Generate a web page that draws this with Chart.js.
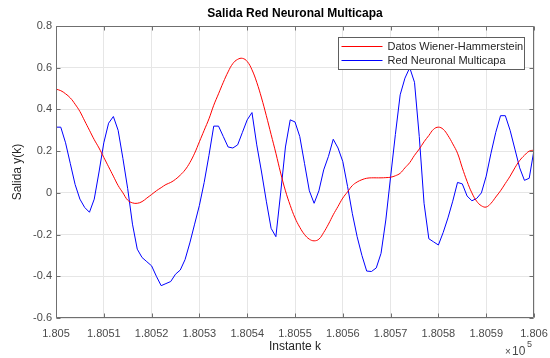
<!DOCTYPE html>
<html>
<head>
<meta charset="utf-8">
<script src="https://cdn.jsdelivr.net/npm/chart.js@4.4.1/dist/chart.umd.min.js"></script>
<style>
  html, body { margin: 0; padding: 0; background: #fff; }
  #wrap { width: 550px; height: 358px; }
</style>
</head>
<body>
<div id="wrap"><canvas id="chart"></canvas></div>
<script>
const instants = [
  180500, 180501, 180502, 180503, 180504, 180505, 180506, 180507, 180508, 180509,
  180510, 180511, 180512, 180513, 180514, 180515, 180516, 180517, 180518, 180519,
  180520, 180521, 180522, 180523, 180524, 180525, 180526, 180527, 180528, 180529,
  180530, 180531, 180532, 180533, 180534, 180535, 180536, 180537, 180538, 180539,
  180540, 180541, 180542, 180543, 180544, 180545, 180546, 180547, 180548, 180549,
  180550, 180551, 180552, 180553, 180554, 180555, 180556, 180557, 180558, 180559,
  180560, 180561, 180562, 180563, 180564, 180565, 180566, 180567, 180568, 180569,
  180570, 180571, 180572, 180573, 180574, 180575, 180576, 180577, 180578, 180579,
  180580, 180581, 180582, 180583, 180584, 180585, 180586, 180587, 180588, 180589,
  180590, 180591, 180592, 180593, 180594, 180595, 180596, 180597, 180598, 180599,
  180600
];

const datosWH = [
  0.497, 0.49, 0.475, 0.455, 0.425, 0.39, 0.345, 0.30, 0.255, 0.215,
  0.17, 0.125, 0.08, 0.035, 0.0, -0.035, -0.048, -0.05, -0.042, -0.025,
  -0.008, 0.01, 0.025, 0.04, 0.05, 0.065, 0.085, 0.11, 0.145, 0.19,
  0.245, 0.30, 0.355, 0.42, 0.475, 0.53, 0.58, 0.62, 0.64, 0.645,
  0.63, 0.59, 0.53, 0.455, 0.37, 0.28, 0.19, 0.095, 0.01, -0.06,
  -0.12, -0.165, -0.2, -0.222, -0.23, -0.222, -0.19, -0.15, -0.105, -0.065,
  -0.025, 0.005, 0.035, 0.052, 0.063, 0.07, 0.072, 0.072, 0.072, 0.073,
  0.075, 0.082, 0.094, 0.12, 0.145, 0.18, 0.21, 0.245, 0.275, 0.305,
  0.315, 0.305, 0.275, 0.235, 0.19, 0.12, 0.055, 0.0, -0.04, -0.062,
  -0.068, -0.05, -0.02, 0.01, 0.045, 0.08, 0.12, 0.155, 0.18, 0.2,
  0.205
];

const redNeuronal = [
  0.315, 0.315, 0.24, 0.14, 0.04, -0.03, -0.07, -0.093, -0.03, 0.10,
  0.24, 0.334, 0.366, 0.30, 0.165, 0.02, -0.15, -0.27, -0.31, -0.33,
  -0.35, -0.40, -0.445, -0.435, -0.425, -0.39, -0.37, -0.32, -0.24, -0.15,
  -0.06, 0.05, 0.18, 0.32, 0.32, 0.27, 0.22, 0.215, 0.23, 0.29,
  0.35, 0.385, 0.23, 0.10, -0.04, -0.17, -0.21, 0.0, 0.22, 0.35,
  0.34, 0.27, 0.14, 0.01, -0.05, 0.01, 0.11, 0.175, 0.257, 0.215,
  0.15, 0.03, -0.10, -0.21, -0.30, -0.375, -0.377, -0.36, -0.29, -0.13,
  0.077, 0.28, 0.47, 0.55, 0.60, 0.53, 0.27, -0.05, -0.22, -0.235,
  -0.25, -0.19, -0.12, -0.04, 0.05, 0.043, -0.015, -0.038, -0.027, 0.0,
  0.08, 0.19, 0.29, 0.37, 0.37, 0.30, 0.21, 0.12, 0.06, 0.07,
  0.206
];

const seriesNames = ["Datos Wiener-Hammerstein", "Red Neuronal Multicapa"];

const fontFamily = "'Liberation Sans', Arial, Helvetica, sans-serif";
const axisColor = "#6f6f6f";
const labelColor = "#4a4a4a";
const textColor = "#262626";
const gridColor = "#e6e6e6";
const redColor = "#ff0000";
const blueColor = "#0000ff";

function toPoints(values) {
  return values.map((v, i) => ({ x: instants[i], y: v }));
}

// MATLAB-like box: full frame, inward ticks on all sides, boxed legend, x10^5 exponent
const matlabFrame = {
  id: "matlabFrame",
  afterDraw(chart) {
    const { ctx, chartArea: a, scales } = chart;
    const left = Math.round(a.left) + 0.5;
    const right = Math.round(a.right) - 0.5;
    const top = Math.round(a.top) + 0.5;
    const bottom = Math.round(a.bottom) - 0.5;
    const tl = 4;
    ctx.save();
    ctx.strokeStyle = axisColor;
    ctx.lineWidth = 1;
    ctx.beginPath();
    ctx.rect(left, top, right - left, bottom - top);
    scales.x.ticks.forEach((t) => {
      const px = Math.round(scales.x.getPixelForValue(t.value)) + 0.5;
      ctx.moveTo(px, bottom); ctx.lineTo(px, bottom - tl);
      ctx.moveTo(px, top); ctx.lineTo(px, top + tl);
    });
    scales.y.ticks.forEach((t) => {
      const py = Math.round(scales.y.getPixelForValue(t.value)) + 0.5;
      ctx.moveTo(left, py); ctx.lineTo(left + tl, py);
      ctx.moveTo(right, py); ctx.lineTo(right - tl, py);
    });
    ctx.stroke();

    // legend
    const lx = 338.5, ly = 37.5, lw = 186, lh = 32;
    ctx.fillStyle = "#fff";
    ctx.fillRect(lx, ly, lw, lh);
    ctx.strokeStyle = "#5e5e5e";
    ctx.strokeRect(lx, ly, lw, lh);
    ctx.font = "11px " + fontFamily;
    ctx.textBaseline = "middle";
    ctx.textAlign = "left";
    chart.data.datasets.forEach((ds, i) => {
      const yy = ly + 9 + i * 14;
      ctx.strokeStyle = ds.borderColor;
      ctx.beginPath();
      ctx.moveTo(lx + 3, yy);
      ctx.lineTo(lx + 44, yy);
      ctx.stroke();
      ctx.fillStyle = textColor;
      ctx.fillText(ds.label, lx + 49, yy);
    });

    // exponent label
    ctx.fillStyle = labelColor;
    ctx.font = "10px " + fontFamily;
    ctx.fillText("\u00d7", 505, 352);
    ctx.font = "12px " + fontFamily;
    ctx.fillText("10", 512, 352);
    ctx.font = "9px " + fontFamily;
    ctx.fillText("5", 527, 345);
    ctx.restore();
  }
};

new Chart(document.getElementById("chart"), {
  type: "line",
  plugins: [matlabFrame],
  data: {
    datasets: [
      {
        label: seriesNames[0],
        data: toPoints(datosWH),
        borderColor: redColor,
        borderWidth: 1,
        pointRadius: 0,
        tension: 0.4,
        fill: false
      },
      {
        label: seriesNames[1],
        data: toPoints(redNeuronal),
        borderColor: blueColor,
        borderWidth: 1,
        pointRadius: 0,
        tension: 0,
        fill: false
      }
    ]
  },
  options: {
    responsive: true,
    maintainAspectRatio: false,
    animation: false,
    events: [],
    layout: { padding: { left: 0, right: 16, top: 0, bottom: 0 } },
    plugins: {
      legend: { display: false },
      tooltip: { enabled: false },
      title: {
        display: true,
        fullSize: false,
        text: "Salida Red Neuronal Multicapa",
        color: "#000",
        font: { family: fontFamily, size: 12, weight: "bold", lineHeight: 1.2 },
        padding: { top: 6, bottom: 5.6 }
      }
    },
    scales: {
      x: {
        type: "linear",
        min: 180500,
        max: 180600,
        afterFit(scale) {
          scale.height = 40;
          scale.paddingLeft = 0;
          scale.paddingRight = 0;
        },
        grid: { color: gridColor, drawTicks: false },
        border: { display: false },
        ticks: {
          stepSize: 10,
          padding: 9,
          color: labelColor,
          maxRotation: 0,
          font: { family: fontFamily, size: 11 },
          callback: (v) => String(Number((v / 1e5).toFixed(4)))
        },
        title: {
          display: true,
          text: "Instante k",
          color: textColor,
          font: { family: fontFamily, size: 12 },
          padding: { top: 0, bottom: 3.8 }
        }
      },
      y: {
        min: -0.6,
        max: 0.8,
        afterFit(scale) {
          scale.width = 56;
          scale.paddingTop = 0;
          scale.paddingBottom = 0;
        },
        grid: { color: gridColor, drawTicks: false },
        border: { display: false },
        ticks: {
          stepSize: 0.2,
          padding: 4,
          color: labelColor,
          font: { family: fontFamily, size: 11 },
          callback: (v) => String(Number(v.toFixed(1)))
        },
        title: {
          display: true,
          text: "Salida y(k)",
          color: textColor,
          font: { family: fontFamily, size: 12 },
          padding: { top: 10.8, bottom: 0 }
        }
      }
    }
  }
});
</script>
</body>
</html>
